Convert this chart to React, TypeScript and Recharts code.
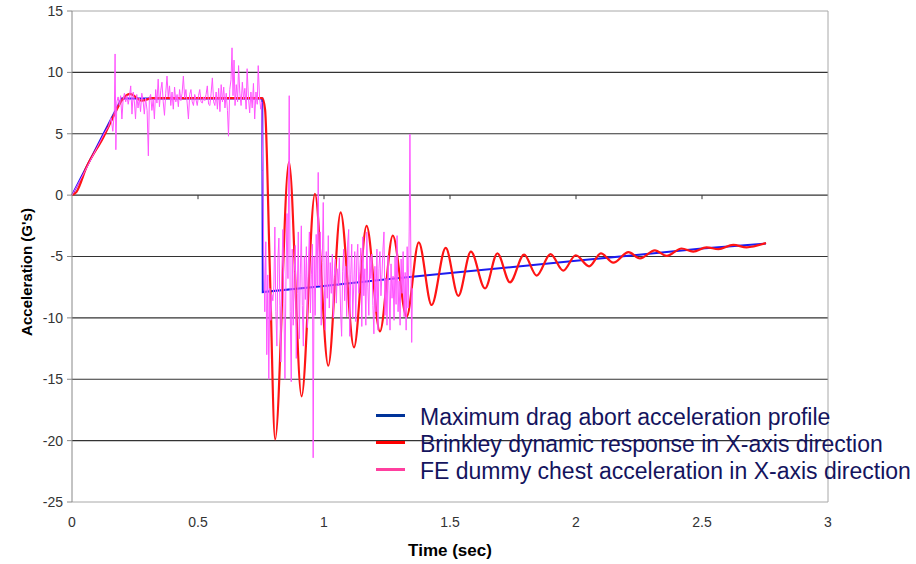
import { LineChart, Line, XAxis, YAxis, ReferenceLine, Label } from 'recharts';

// axis layout
const timeTicks = [0, 0.5, 1, 1.5, 2, 2.5, 3];
const accelTicks = [-25, -20, -15, -10, -5, 0, 5, 10, 15];
const gridLevels = [-20, -15, -10, -5, 0, 5, 10];
const crossingTicks = [0.5, 1, 1.5, 2, 2.5];

// [time (s), acceleration (G)]
const profilePts: [number, number][] = [
  [0, 0], [0.197, 7.88], [0.755, 7.88], [0.757, -7.9], [1.0, -7.4], [1.25, -6.85],
  [1.5, -6.35], [1.75, -5.85], [2.0, -5.35], [2.25, -4.85], [2.5, -4.35], [2.754, -3.95],
];

const brinkleyPts: [number, number][] = [
  [0, 0], [0.018, 0.27], [0.058, 2.3], [0.124, 4.7], [0.171, 6.7], [0.197, 7.7], [0.23, 8.25],
  [0.276, 7.7], [0.32, 7.9], [0.755, 7.9], [0.766, 7.0], [0.785, -6], [0.806, -19.9],
  [0.861, 2.7], [0.911, -16.4], [0.964, 0.1], [1.017, -13.9], [1.066, -1.4], [1.119, -12.4],
  [1.169, -2.5], [1.222, -11.1], [1.273, -3.3], [1.328, -9.9], [1.376, -3.85], [1.427, -8.95],
  [1.483, -4.3], [1.533, -8.2], [1.583, -4.6], [1.639, -7.6], [1.688, -4.75], [1.738, -7.1],
  [1.794, -4.85], [1.844, -6.55], [1.899, -4.8], [1.949, -6.15], [1.999, -4.9], [2.052, -5.8],
  [2.099, -4.75], [2.148, -5.5], [2.208, -4.65], [2.254, -5.15], [2.313, -4.5], [2.36, -4.95],
  [2.419, -4.35], [2.465, -4.6], [2.518, -4.25], [2.565, -4.4], [2.624, -4.05], [2.677, -4.25],
  [2.754, -3.9],
];

const dummyPts: [number, number][] = [
  [0, 0], [0.05, 1.9], [0.1, 3.9], [0.13, 5.1], [0.145, 5.6], [0.155, 6.3], [0.162, 5.2],
  [0.168, 6.8], [0.171, 11.5], [0.174, 3.7], [0.178, 7.6], [0.183, 8.0], [0.188, 7.3],
  [0.193, 8.1], [0.198, 6.2], [0.203, 7.8], [0.208, 8.3], [0.213, 7.6], [0.218, 8.1],
  [0.223, 7.4], [0.228, 8.0], [0.233, 8.9], [0.238, 6.6], [0.243, 8.4], [0.248, 7.5],
  [0.252, 6.2], [0.257, 8.2], [0.262, 7.1], [0.267, 7.9], [0.272, 6.8], [0.277, 8.3],
  [0.282, 7.7], [0.287, 6.6], [0.292, 7.9], [0.298, 6.9], [0.303, 3.2], [0.307, 7.9],
  [0.312, 8.2], [0.317, 6.9], [0.322, 7.8], [0.327, 6.2], [0.332, 8.6], [0.337, 7.5],
  [0.342, 9.45], [0.347, 7.2], [0.352, 8.5], [0.357, 9.2], [0.362, 7.6], [0.367, 6.5],
  [0.372, 8.3], [0.377, 9.7], [0.382, 8.0], [0.387, 8.9], [0.392, 7.3], [0.397, 8.4],
  [0.402, 7.0], [0.407, 8.8], [0.412, 7.6], [0.417, 8.2], [0.422, 7.2], [0.427, 8.6],
  [0.432, 7.7], [0.437, 8.3], [0.442, 9.7], [0.447, 7.9], [0.452, 8.6], [0.457, 7.5],
  [0.462, 6.2], [0.467, 8.2], [0.472, 8.6], [0.477, 7.6], [0.482, 7.3], [0.487, 8.2],
  [0.492, 7.8], [0.497, 7.3], [0.502, 8.1], [0.507, 8.6], [0.512, 7.6], [0.517, 7.5],
  [0.522, 8.0], [0.527, 7.7], [0.532, 8.2], [0.537, 8.9], [0.542, 7.4], [0.547, 7.3],
  [0.552, 8.3], [0.557, 9.55], [0.562, 7.6], [0.567, 7.3], [0.572, 8.4], [0.577, 7.0],
  [0.582, 8.7], [0.587, 6.8], [0.592, 9.0], [0.597, 7.6], [0.602, 8.8], [0.607, 7.1],
  [0.612, 8.3], [0.617, 6.9], [0.621, 4.8], [0.626, 8.6], [0.631, 9.4], [0.635, 12.0],
  [0.639, 8.1], [0.643, 11.0], [0.647, 7.3], [0.652, 9.0], [0.657, 7.6], [0.661, 10.55],
  [0.666, 8.3], [0.671, 7.3], [0.676, 9.2], [0.681, 7.8], [0.686, 8.7], [0.691, 7.0],
  [0.695, 10.3], [0.7, 8.0], [0.705, 6.7], [0.71, 8.4], [0.715, 7.1], [0.72, 9.1],
  [0.725, 6.2], [0.73, 8.4], [0.735, 7.4], [0.739, 10.55], [0.744, 8.0], [0.749, 7.0],
  [0.753, 7.6], [0.757, 2.0], [0.761, -5.0], [0.765, -9.5], [0.769, -3.8], [0.773, -13.0],
  [0.777, -6.5], [0.781, -15.0], [0.785, -7.6], [0.789, -10.2], [0.793, -8.1], [0.797, -8.6],
  [0.801, -7.4], [0.805, -2.6], [0.809, -9.5], [0.813, -12.3], [0.817, -5.2], [0.821, -3.5],
  [0.825, -9.0], [0.829, -13.6], [0.833, -6.0], [0.837, -2.8], [0.841, -8.8], [0.845, -15.0],
  [0.849, -7.0], [0.853, -1.5], [0.857, -6.8], [0.862, 8.1], [0.866, -9.5], [0.87, -15.2],
  [0.874, -4.4], [0.878, -10.6], [0.882, -6.2], [0.886, -4.1], [0.89, -13.3], [0.894, -8.0],
  [0.898, -3.0], [0.902, -11.7], [0.906, -6.5], [0.91, -2.5], [0.914, -9.0], [0.918, -12.3],
  [0.922, -5.0], [0.926, -8.5], [0.93, -4.2], [0.934, -10.8], [0.938, -5.6], [0.942, -3.0],
  [0.946, -9.6], [0.95, -6.5], [0.954, -4.0], [0.957, -21.4], [0.961, -5.0], [0.965, -9.8],
  [0.969, -3.2], [0.973, -7.4], [0.977, 1.85], [0.981, -7.4], [0.985, -3.0], [0.989, -10.6],
  [0.993, -5.5], [0.997, -0.6], [1.001, -7.0], [1.005, -11.0], [1.009, -4.6], [1.013, -8.4],
  [1.017, -3.3], [1.021, -9.2], [1.025, -5.5], [1.029, -8.0], [1.033, -4.8], [1.037, -10.0],
  [1.041, -6.6], [1.045, -5.2], [1.049, -8.8], [1.053, -6.0], [1.057, -7.4], [1.061, -5.1],
  [1.066, -9.6], [1.07, -11.5], [1.074, -6.2], [1.078, -4.4], [1.082, -8.6], [1.086, -5.8],
  [1.09, -9.9], [1.094, -3.9], [1.098, -2.8], [1.102, -11.5], [1.106, -6.5], [1.11, -4.0],
  [1.114, -10.0], [1.118, -7.3], [1.122, -4.6], [1.126, -10.3], [1.13, -5.2], [1.134, -4.0],
  [1.138, -8.0], [1.142, -6.2], [1.146, -4.3], [1.15, -10.7], [1.154, -3.4], [1.158, -8.2],
  [1.162, -6.0], [1.166, -10.6], [1.17, -3.0], [1.174, -7.5], [1.178, -9.8], [1.182, -5.0],
  [1.186, -6.8], [1.19, -4.8], [1.194, -9.0], [1.198, -11.3], [1.202, -5.8], [1.206, -9.5],
  [1.21, -4.4], [1.214, -11.0], [1.218, -6.0], [1.222, -4.6], [1.226, -8.2], [1.23, -6.5],
  [1.234, -4.4], [1.238, -3.0], [1.242, -9.8], [1.246, -6.8], [1.25, -10.6], [1.254, -4.9],
  [1.258, -7.8], [1.262, -11.0], [1.266, -5.6], [1.27, -8.4], [1.274, -6.6], [1.278, -10.2],
  [1.282, -5.0], [1.286, -8.9], [1.29, -3.3], [1.294, -9.5], [1.298, -7.0], [1.302, -10.6],
  [1.306, -5.2], [1.31, -8.0], [1.314, -4.6], [1.318, -9.9], [1.322, -6.3], [1.326, -11.0],
  [1.33, -4.2], [1.334, -9.2], [1.338, -3.0], [1.341, 4.97], [1.345, -6.0], [1.348, -12.0],
  [1.351, -7.6],
];

const legendItems = [
  { name: 'Maximum drag abort acceleration profile', color: '#003399' },
  { name: 'Brinkley dynamic response in X-axis direction', color: '#ff0000' },
  { name: 'FE dummy chest acceleration in X-axis direction', color: '#ff3f9f' },
];

const toRows = (pts: [number, number][]) => pts.map(([t, g]) => ({ t, g }));
const profile = toRows(profilePts);
const brinkley = toRows(brinkleyPts);
const dummy = toRows(dummyPts);

const GRID = '#333';
const FRAME = '#a8a8a8';
const TICK_TEXT = { fill: '#333', fontSize: 14 };

function YTitle() {
  return (
    <text
      x={26}
      y={272}
      transform="rotate(-90 26 272)"
      textAnchor="middle"
      dominantBaseline="central"
      fontSize={15}
      fontWeight="bold"
      fill="#000"
    >
      Acceleration (G's)
    </text>
  );
}

export default function App() {
  return (
    <div
      style={{
        position: 'absolute',
        left: 0,
        top: 0,
        width: 916,
        height: 564,
        background: '#fff',
        fontFamily: '"Liberation Sans", Arial, sans-serif',
      }}
    >
      <LineChart width={916} height={564} margin={{ top: 11, right: 88, left: 0, bottom: 0 }}>
        <XAxis
          type="number"
          dataKey="t"
          domain={[0, 3]}
          ticks={timeTicks}
          interval={0}
          tick={TICK_TEXT}
          tickLine={false}
          tickSize={6}
          tickMargin={9}
          axisLine={{ stroke: FRAME }}
          height={62}
        >
          <Label value="Time (sec)" position="insideBottom" offset={8} fontSize={17} fontWeight="bold" fill="#000" />
        </XAxis>
        <YAxis
          type="number"
          domain={[-25, 15]}
          ticks={accelTicks}
          interval={0}
          width={72}
          tick={TICK_TEXT}
          tickLine={{ stroke: '#888' }}
          tickSize={5}
          tickMargin={4}
          axisLine={{ stroke: '#888' }}
        >
          <Label content={<YTitle />} />
        </YAxis>
        {gridLevels.map((v) => (
          <ReferenceLine key={v} y={v} stroke={GRID} strokeWidth={1.2} />
        ))}
        <ReferenceLine y={15} stroke={FRAME} />
        <ReferenceLine x={3} stroke={FRAME} />
        {crossingTicks.map((t) => (
          <ReferenceLine
            key={`tick-${t}`}
            segment={[{ x: t, y: 0 }, { x: t, y: -0.33 }]}
            stroke={GRID}
          />
        ))}
        <Line
          data={profile}
          dataKey="g"
          type="linear"
          stroke="#1c1cf0"
          strokeWidth={2}
          dot={false}
          activeDot={false}
          isAnimationActive={false}
        />
        <Line
          data={brinkley}
          dataKey="g"
          type="monotone"
          stroke="#ff1414"
          strokeWidth={2.2}
          dot={false}
          activeDot={false}
          isAnimationActive={false}
        />
        <Line
          data={dummy}
          dataKey="g"
          type="linear"
          stroke="#ff55ff"
          strokeWidth={1}
          dot={false}
          activeDot={false}
          isAnimationActive={false}
        />
      </LineChart>
      <div style={{ position: 'absolute', left: 376, top: 404 }}>
        {legendItems.map((item) => (
          <div
            key={item.name}
            style={{ display: 'flex', alignItems: 'center', height: 27, whiteSpace: 'nowrap' }}
          >
            <span
              style={{
                display: 'inline-block',
                width: 29,
                height: 3,
                marginRight: 15,
                marginTop: -4,
                background: item.color,
              }}
            />
            <span style={{ fontSize: 23, color: '#14145e' }}>{item.name}</span>
          </div>
        ))}
      </div>
    </div>
  );
}
